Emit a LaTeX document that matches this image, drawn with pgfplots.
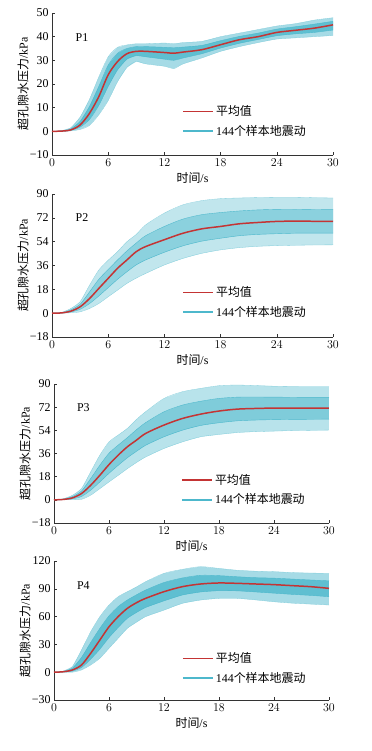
\documentclass[border=0pt]{standalone}
\usepackage{fontspec}
\setmainfont{Liberation Serif}
\newfontfamily\cjk{Noto Sans CJK SC}
\usepackage{pgfplots}
\usepackage{pgfplotstable}
\pgfplotsset{compat=1.18}
\usepgfplotslibrary{fillbetween}
\definecolor{bandc}{RGB}{77,184,204}
\definecolor{meanc}{RGB}{196,52,52}

\pgfplotstableread{
t lo lo2 mean hi2 hi
0 0 0 0 0 0
1 0 0 0.1 0.2 0.3
2 0.2 0.4 0.6 1 1.5
3 0.8 1.8 2.7 4.2 6
4 2.5 5 7.6 10.5 13.5
5 7 11 14.7 19 23
6 13 19 23.9 28 31.5
7 21 26 29.5 33 35.5
8 27 30.5 32.8 35 36.5
9 29.5 32 33.8 35.8 37
10 28.5 31.5 33.8 35.8 37
12 27.5 30.5 33.3 35.5 37.3
13 26.5 30 33.0 35.3 37
14 28.5 31 33.5 35.6 37.5
16 31 32.8 34.5 36.3 38
18 33.8 35.2 36.6 38.3 40
20 35.8 37.2 38.7 40.1 41.5
22 37.5 38.8 40.0 41.5 43
24 39 40.4 41.8 43.2 44.5
26 39.5 41.2 42.7 44.2 45.5
28 40 41.8 43.6 45.3 47
30 40.5 42.8 45 46.5 48
}\PA

\pgfplotstableread{
t lo lo2 mean hi2 hi
0 0 0 0 0 0
1 0 0.1 0.2 0.3 0.5
2 0.3 0.9 1.5 2.5 3.5
3 1 2.9 4.8 6.7 8.6
4 3.5 7.2 11 16 21
5 7.3 13 18.7 25.6 32.6
6 12.4 19.3 26.3 33 40
7 17.4 25.6 33.9 40.2 46.5
8 22.5 31.3 40.2 47 54
9 26.5 36.5 46.5 53 59.5
10 30 40.2 50.3 58.5 66.7
12 36.4 46 55.5 65.5 75.6
14 41.4 50.9 60.4 71.1 81.9
16 45.2 54.4 63.7 74.4 85
18 47.8 56.6 65.5 76 86.5
20 49.5 58.5 67.5 77.2 87
22 50.5 59.5 68.5 78 87.3
24 51 60 69.3 78.4 87.5
26 51.3 60.4 69.5 78.5 87.5
28 51.5 60.4 69.4 78.3 87.2
30 51.6 60.4 69.3 78.2 87
}\PB

\pgfplotstableread{
t lo lo2 mean hi2 hi
0 0 0 0 0 0
1 0 0.1 0.3 0.5 0.8
2 0.2 0.8 1.5 2.5 3.5
3 0.4 2.6 4.9 6.8 8.7
4 3.6 7.5 11.3 16.5 21.7
5 8.7 13.9 19.1 26.9 34.7
6 13.9 20.6 27.4 36.2 45
7 19 26.8 34.7 42.5 50.3
8 24.2 32.7 41.2 48.3 55.5
9 29 37.7 46.4 54.5 62.5
10 33.3 42.4 51.6 60 68.5
12 39.9 49 58.1 68.4 78.8
14 45 54.1 63.2 73.6 84
16 49 57.8 66.6 76.6 86.6
18 50.8 59.9 69 78.8 88.7
20 52.3 61.4 70.5 79.8 89.2
22 53 62 71 79.9 88.8
24 53.4 62.3 71.3 79.8 88.3
26 53.8 62.5 71.3 79.7 88.1
28 54 62.6 71.3 79.6 88
30 54.2 62.7 71.3 79.6 88
}\PC

\pgfplotstableread{
t lo lo2 mean hi2 hi
0 0 0 0 0 0
1 0 0.2 0.5 0.8 1.2
2 0 1.2 2.4 4.2 6
3 2.4 5.1 7.8 15.9 24
4 7.8 14.1 20.4 32 43.7
5 15 24.8 34.7 47.3 59.9
6 25.8 37.4 49 60.8 72.5
7 36.6 48.3 60 70.8 81.5
8 47.4 58.2 68.9 77.9 86.9
9 54 64.5 75 83.5 92
10 60 69.9 79.7 88.7 97.7
12 67 77 86.9 96.8 106.7
14 74.3 83.3 92.3 101.7 111
16 77.9 86.6 95.2 104.6 113.9
18 79.7 88 96.3 104.2 112
20 79.7 87.8 95.9 103 110
22 78 86.6 95.2 102 109
24 76 85.3 94.5 101.5 108.5
26 74.5 84 93.4 100.5 107.5
28 73.5 82.9 92.3 99.5 107
30 72.5 81.5 90.5 98.6 106.7
}\PD

\pgfplotsset{
  panel/.style={
    scale only axis, xmin=0, xmax=30, xtick={0,6,...,30},
    axis x line=bottom, axis y line=left,
    axis line style={-, black!80, line width=0.6pt},
    tick align=inside, major tick length=3bp, tick style={black!80, line width=0.5pt},
    tick label style={font=\fontsize{12}{13}\selectfont},
    label style={font=\fontsize{12}{13}\selectfont},
    xlabel={{\cjk 时间}/s}, ylabel={{\cjk 超孔隙水压力}/kPa},
    xlabel style={at={(axis description cs:0.5,0)}, anchor=center, yshift=-23bp},
    ylabel style={at={(axis description cs:0,0.5)}, anchor=center, yshift=29bp},
    legend style={draw=none, fill=none, inner sep=0pt, row sep=4bp,
      font=\fontsize{12}{13}\selectfont, anchor=west},
    legend cell align=left,
    legend image code/.code={\draw[##1] (0bp,0bp) -- (30bp,0bp);},
    clip=false,
  },
}

\newcommand\band[4]{%
  \addplot[name path=lo, draw=none, forget plot] table[x=t,y=lo]{#1};
  \addplot[name path=hi, draw=none, forget plot] table[x=t,y=hi]{#1};
  \addplot[name path=loB, draw=none, forget plot] table[x=t,y=lo2]{#1};
  \addplot[name path=hiB, draw=none, forget plot] table[x=t,y=hi2]{#1};
  \addplot[fill=bandc!#2, draw=none, forget plot] fill between[of=lo and hi];
  \addplot[fill=bandc!#3, draw=none, forget plot] fill between[of=loB and hiB];
  \addplot[bandc!70, line width=0.3pt, smooth, forget plot] table[x=t,y=lo]{#1};
  \addplot[bandc!70, line width=0.3pt, smooth, forget plot] table[x=t,y=hi]{#1};
  \addplot[bandc, line width=0.4pt, smooth, forget plot] table[x=t,y=lo2]{#1};
  \addplot[bandc, line width=0.4pt, smooth, forget plot] table[x=t,y=hi2]{#1};
  \addplot[meanc, line width=1.5pt, smooth, forget plot] table[x=t,y=mean]{#1};
  \addlegendimage{meanc, line width=1.5pt}
  \addlegendentry{\cjk 平均值}
  \addlegendimage{bandc, line width=1.8pt}
  \addlegendentry{144{\cjk 个样本地震动}}
  \node[font=\fontsize{12}{13}\selectfont] at (axis cs:3.2,#4) {P\thepanel};
}
\newcounter{panel}

\begin{document}
\begin{tikzpicture}

\setcounter{panel}{1}
\begin{axis}[panel, at={(52bp,-155bp)}, anchor=south west, width=281bp, height=142bp,
  ymin=-10, ymax=50, ytick={-10,0,...,50},
  yticklabels={−10,0,10,20,30,40,50},
  legend style={at={(0.463,0.236)}}]
\band{\PA}{50}{90}{39.5}
\end{axis}

\setcounter{panel}{2}
\begin{axis}[panel, at={(52bp,-337bp)}, anchor=south west, width=281bp, height=143bp,
  ymin=-18, ymax=90, ytick={-18,0,...,90},
  yticklabels={−18,0,18,36,54,72,90},
  legend style={at={(0.463,0.244)}}]
\band{\PB}{35}{65}{72}
\end{axis}

\setcounter{panel}{3}
\begin{axis}[panel, at={(54bp,-523bp)}, anchor=south west, width=275bp, height=139bp,
  ymin=-18, ymax=90, ytick={-18,0,...,90},
  yticklabels={−18,0,18,36,54,72,90},
  legend style={at={(0.462,0.238)}}]
\band{\PC}{40}{72}{71.5}
\end{axis}

\setcounter{panel}{4}
\begin{axis}[panel, at={(54bp,-700bp)}, anchor=south west, width=275bp, height=139bp,
  ymin=-30, ymax=120, ytick={-30,0,...,120},
  yticklabels={−30,0,30,60,90,120},
  legend style={at={(0.465,0.23)}}]
\band{\PD}{50}{90}{93}
\end{axis}

\path (0bp,0bp) rectangle (372bp,-751bp);
\end{tikzpicture}
\end{document}
